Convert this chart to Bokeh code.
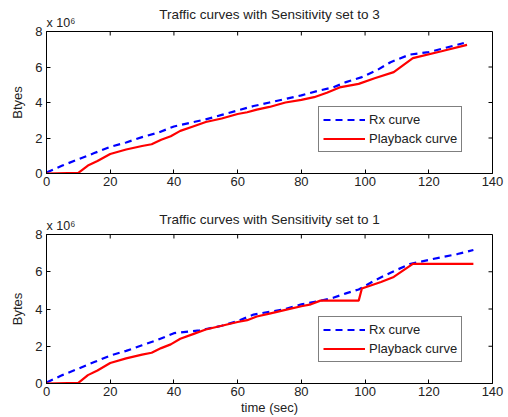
import math
from bokeh.plotting import figure
from bokeh.layouts import column
from bokeh.models import (Legend, LegendItem, Title, FixedTicker, Range1d)
from bokeh.embed import file_html
from bokeh.resources import INLINE

# ---- data (bytes in units of 10^6) ----
top_rx_t = [0, 5, 10, 15, 20, 25, 30, 35, 40, 45, 50, 55, 60, 65, 70, 75, 80, 85, 90, 94, 99, 104, 108, 114, 120, 124, 131]
top_rx_y = [0.05, 0.45, 0.8, 1.15, 1.5, 1.75, 2.05, 2.3, 2.65, 2.85, 3.05, 3.3, 3.55, 3.8, 4.0, 4.2, 4.4, 4.65, 4.85, 5.15, 5.43, 5.85, 6.27, 6.7, 6.84, 7.02, 7.35]
top_pb_t = [0, 10, 13, 16, 20, 25, 30, 33, 36, 39, 42, 46, 50, 55, 60, 63, 66, 70, 75, 80, 84, 88, 92, 98, 103, 109, 115, 124, 132]
top_pb_y = [0, 0.03, 0.45, 0.7, 1.1, 1.35, 1.55, 1.65, 1.9, 2.1, 2.4, 2.65, 2.9, 3.1, 3.35, 3.45, 3.6, 3.75, 4.0, 4.15, 4.3, 4.55, 4.85, 5.05, 5.37, 5.71, 6.5, 6.89, 7.25]

bot_rx_t = [0, 5, 10, 15, 20, 25, 30, 35, 40, 45, 48, 55, 60, 65, 70, 75, 80, 86, 90, 94, 98, 103, 108, 114, 119, 124, 129, 134]
bot_rx_y = [0.05, 0.45, 0.8, 1.15, 1.5, 1.75, 2.05, 2.35, 2.7, 2.8, 2.85, 3.1, 3.35, 3.7, 3.85, 4.0, 4.25, 4.45, 4.6, 4.84, 5.05, 5.53, 5.95, 6.41, 6.6, 6.78, 6.95, 7.17]
bot_pb_t = [0, 10, 13, 16, 20, 25, 30, 33, 36, 39, 42, 46, 50, 55, 60, 63, 66, 70, 75, 80, 83, 86, 98, 99, 105, 109, 115, 134]
bot_pb_y = [0, 0.03, 0.45, 0.7, 1.1, 1.35, 1.55, 1.65, 1.9, 2.1, 2.4, 2.65, 2.9, 3.1, 3.3, 3.4, 3.6, 3.75, 3.95, 4.15, 4.25, 4.45, 4.45, 5.1, 5.45, 5.72, 6.42, 6.42]

x_ticks = [0, 20, 40, 60, 80, 100, 120, 140]
y_ticks = [0, 2, 4, 6, 8]
X_MAX = 140
Y_MAX = 8
SCALE_TEXT = "x 10\u2076"

FONT = "Liberation Sans"
TXT = "#222222"


def make_panel(title, ylabel, rx_t, rx_y, pb_t, pb_y, height, btop, bbot, title_standoff, xlabel=None):
    p = figure(width=508, height=height, output_backend="svg", toolbar_location=None,
               x_range=Range1d(0, X_MAX), y_range=Range1d(0, Y_MAX),
               min_border_left=46, min_border_right=16, min_border_top=btop,
               min_border_bottom=bbot)
    # scale note, drawn just above the top-left corner of the box
    scale = Title(text=SCALE_TEXT, align="left", offset=0, standoff=3,
                  text_font=FONT, text_font_size="12.5px", text_font_style="normal",
                  text_color=TXT)
    p.add_layout(scale, "above")

    p.title.text = title
    p.title.align = "center"
    p.title.text_font = FONT
    p.title.text_font_size = "13.5px"
    p.title.text_font_style = "normal"
    p.title.text_color = TXT
    p.title.offset = 0
    p.title.standoff = title_standoff
    p.outline_line_color = "black"
    p.outline_line_width = 1
    p.xgrid.visible = False
    p.ygrid.visible = False

    for ax, ticks in ((p.xaxis[0], x_ticks), (p.yaxis[0], y_ticks)):
        ax.ticker = FixedTicker(ticks=ticks)
        ax.major_tick_in = 4
        ax.major_tick_out = 0
        ax.minor_tick_in = 0
        ax.minor_tick_out = 0
        ax.major_label_text_font = FONT
        ax.major_label_text_font_size = "13px"
        ax.major_label_text_color = TXT
        ax.axis_label_text_font = FONT
        ax.axis_label_text_font_size = "13px"
        ax.axis_label_text_font_style = "normal"
        ax.axis_label_text_color = TXT
        ax.axis_line_color = "black"
        ax.major_tick_line_color = "black"
    p.xaxis[0].major_label_standoff = 3
    p.yaxis[0].major_label_standoff = 4
    p.yaxis[0].axis_label = ylabel
    p.yaxis[0].axis_label_standoff = 7
    if xlabel:
        p.xaxis[0].axis_label = xlabel
        p.xaxis[0].axis_label_standoff = 1

    # mirrored inward ticks on the top and right edges of the box
    p.ray(x=x_ticks, y=[Y_MAX] * len(x_ticks), length=4, length_units="screen",
          angle=-math.pi / 2, line_color="black", line_width=1)
    p.ray(x=[X_MAX] * len(y_ticks), y=y_ticks, length=4, length_units="screen",
          angle=math.pi, line_color="black", line_width=1)

    r1 = p.line(rx_t, rx_y, line_color="#0000ff", line_width=2.2, line_dash="7 5")
    r2 = p.line(pb_t, pb_y, line_color="#ff0000", line_width=2.2)

    leg = Legend(items=[LegendItem(label="Rx curve", renderers=[r1]),
                        LegendItem(label="Playback curve", renderers=[r2])],
                 location=(272, 21))
    leg.label_text_font = FONT
    leg.label_text_font_size = "13px"
    leg.label_text_color = TXT
    leg.glyph_width = 42
    leg.glyph_height = 17
    leg.label_height = 17
    leg.label_standoff = 4
    leg.spacing = 2
    leg.padding = 4
    leg.margin = 0
    leg.border_line_color = "black"
    leg.border_line_width = 1
    leg.background_fill_alpha = 1
    p.add_layout(leg, "center")
    return p


p1 = make_panel("Traffic curves with Sensitivity set to 3", "Btyes",
                top_rx_t, top_rx_y, top_pb_t, top_pb_y, 205, 31, 32, -18)
p2 = make_panel("Traffic curves with Sensitivity set to 1", "Bytes",
                bot_rx_t, bot_rx_y, bot_pb_t, bot_pb_y, 212, 29, 34, -23, xlabel="time (sec)")

layout = column(p1, p2, spacing=0)
open("out.html", "w").write(file_html(layout, INLINE))
